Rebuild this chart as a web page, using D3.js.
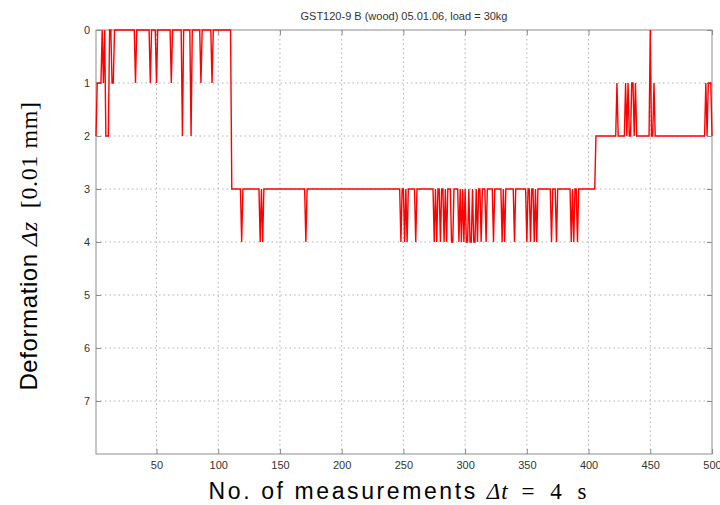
<!DOCTYPE html>
<html>
<head>
<meta charset="utf-8">
<script src="https://cdn.jsdelivr.net/npm/d3@7/dist/d3.min.js"></script>
<style>
  body { margin: 0; background: #fff; }
  svg { display: block; font-family: "Liberation Sans", Arial, Helvetica, sans-serif; }
  .grid line { stroke: #b0b0b0; stroke-width: 1; stroke-dasharray: 1.5 3; }
  .axis path { display: none; }
  .axis line { stroke: #8c8c8c; }
  .axis text { fill: #333; font-size: 11px; }
  .frame { fill: none; stroke: #8c8c8c; stroke-width: 1; }
  .trace { fill: none; stroke: #f00; stroke-width: 1.4; stroke-linejoin: miter; }
  .serif { font-family: "Liberation Serif", "Times New Roman", serif; }
</style>
</head>
<body>
<div id="chart"></div>
<script>
/* global d3 */

// deformation per measurement, one digit per sample, in 0.01 mm
// each row holds 50 samples, split in groups of 10
const readings = [
  "2111101022 2001100000 0000000000 0010000000 0000100001", // 1-50
  "0000000000 0100000000 2000000200 0000010000 0000100000", // 51-100
  "0000000000 3333333343 3333333333 3334343333 3333333333", // 101-150
  "3333333333 3333333333 4333333333 3333333333 3333333333", // 151-200
  "3333333333 3333333333 3333333333 3333333333 3333333433", // 201-250
  "4343333334 3333333333 3333434334 3343433344 3333434343", // 251-300
  "4434434434 3343334333 3343333334 3433333334 3333333334", // 301-350
  "3343343433 3333333334 3334333333 3333343433 4333333333", // 351-400
  "3333322222 2222222222 2212222221 2122112122 2222222220", // 401-450
  "2212222222 2222222222 2222222222 2222222222 2222121112"  // 451-500
];
const xTicks = [50, 100, 150, 200, 250, 300, 350, 400, 450, 500];
const yTicks = [0, 1, 2, 3, 4, 5, 6, 7];
const xDomain = [1, 500];
const yDomain = [0, 8];
const title = "GST120-9 B (wood) 05.01.06, load = 30kg";

const data = readings
  .join("")
  .replace(/\s/g, "")
  .split("")
  .map((c, i) => ({ n: i + 1, dz: +c }));

// dimensions
const WIDTH = 720;
const HEIGHT = 505;
const MARGIN = { top: 30, right: 8, bottom: 51, left: 96 };
const TICK = 5;

const x = d3.scaleLinear().domain(xDomain).range([MARGIN.left, WIDTH - MARGIN.right]);
const y = d3.scaleLinear().domain(yDomain).range([MARGIN.top, HEIGHT - MARGIN.bottom]);

const $svg = d3.select("#chart")
  .append("svg")
  .attr("width", WIDTH)
  .attr("height", HEIGHT);

// grid
const $grid = $svg.append("g").attr("class", "grid");
$grid.selectAll(".gx")
  .data(xTicks.filter(d => d < xDomain[1]))
  .join("line")
  .attr("class", "gx")
  .attr("x1", d => x(d)).attr("x2", d => x(d))
  .attr("y1", y.range()[0]).attr("y2", y.range()[1]);
$grid.selectAll(".gy")
  .data(yTicks.filter(d => d > yDomain[0]))
  .join("line")
  .attr("class", "gy")
  .attr("x1", x.range()[0]).attr("x2", x.range()[1])
  .attr("y1", d => y(d)).attr("y2", d => y(d));

// axes, matlab style: ticks pointing inwards on every side
$svg.append("g")
  .attr("class", "axis")
  .attr("transform", `translate(0,${y.range()[1]})`)
  .call(d3.axisBottom(x).tickValues(xTicks).tickSizeInner(-TICK).tickSizeOuter(0).tickPadding(7));
$svg.append("g")
  .attr("class", "axis")
  .attr("transform", `translate(0,${y.range()[0]})`)
  .call(d3.axisTop(x).tickValues(xTicks).tickSizeInner(-TICK).tickSizeOuter(0).tickFormat(""));
$svg.append("g")
  .attr("class", "axis")
  .attr("transform", `translate(${x.range()[0]},0)`)
  .call(d3.axisLeft(y).tickValues(yTicks).tickSizeInner(-TICK).tickSizeOuter(0).tickPadding(6));
$svg.append("g")
  .attr("class", "axis")
  .attr("transform", `translate(${x.range()[1]},0)`)
  .call(d3.axisRight(y).tickValues(yTicks).tickSizeInner(-TICK).tickSizeOuter(0).tickFormat(""));

$svg.append("rect")
  .attr("class", "frame")
  .attr("x", x.range()[0])
  .attr("y", y.range()[0])
  .attr("width", x.range()[1] - x.range()[0])
  .attr("height", y.range()[1] - y.range()[0]);

// trace
const line = d3.line().x(d => x(d.n)).y(d => y(d.dz));
$svg.append("path")
  .datum(data)
  .attr("class", "trace")
  .attr("d", line);

// title
$svg.append("text")
  .attr("x", (x.range()[0] + x.range()[1]) / 2)
  .attr("y", 20)
  .attr("text-anchor", "middle")
  .style("font-size", "11px")
  .style("fill", "#333")
  .text(title);

// x label
const $xl = $svg.append("text")
  .attr("x", 399)
  .attr("y", 499)
  .attr("text-anchor", "middle")
  .style("font-size", "23px")
  .style("fill", "#000");
$xl.append("tspan").style("letter-spacing", "2.6px").text("No. of measurements ");
$xl.append("tspan")
  .attr("class", "serif")
  .style("font-style", "italic")
  .style("letter-spacing", "1px")
  .text("\u0394t");
$xl.append("tspan")
  .attr("class", "serif")
  .style("letter-spacing", "3px")
  .style("word-spacing", "4px")
  .text("\u00a0= 4 s");

// y label
const $yl = $svg.append("text")
  .attr("transform", "translate(37,246) rotate(-90)")
  .attr("text-anchor", "middle")
  .style("font-size", "24px")
  .style("letter-spacing", "0.6px")
  .style("fill", "#000");
$yl.append("tspan").text("Deformation ");
$yl.append("tspan")
  .attr("class", "serif")
  .style("font-style", "italic")
  .text("\u0394z");
$yl.append("tspan")
  .attr("class", "serif")
  .text("\u00a0\u00a0[0.01 mm]");
</script>
</body>
</html>
